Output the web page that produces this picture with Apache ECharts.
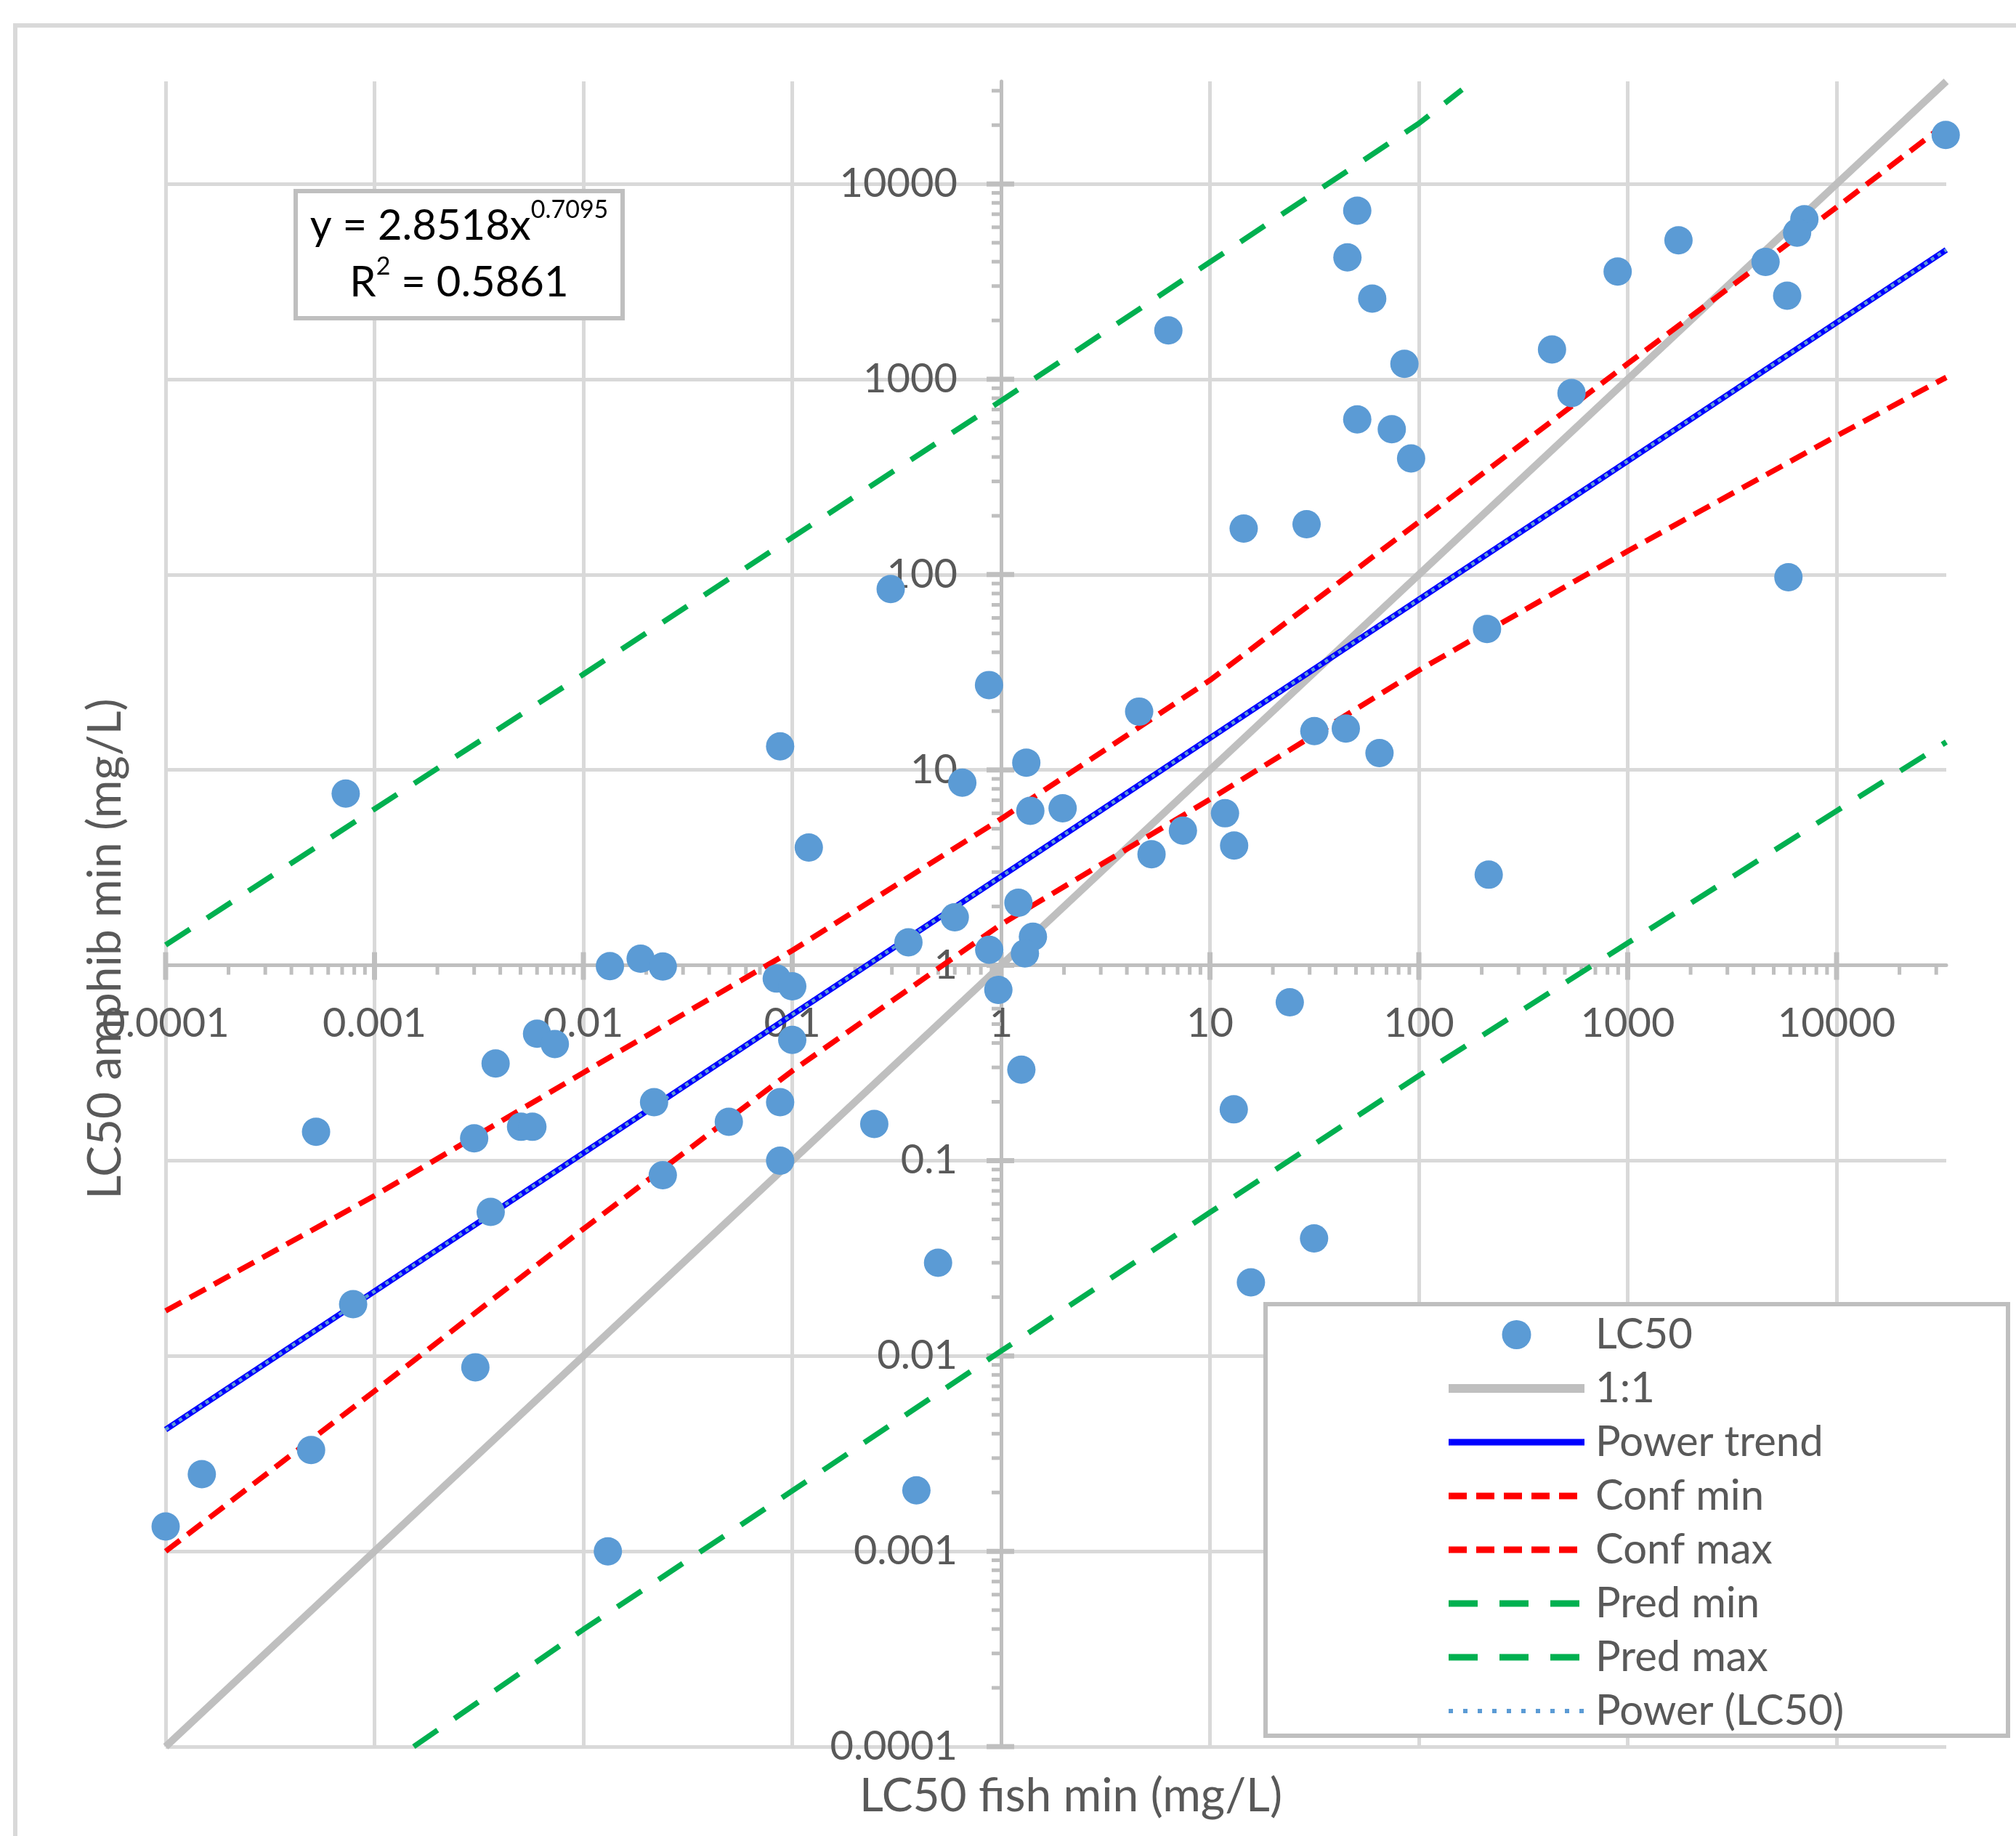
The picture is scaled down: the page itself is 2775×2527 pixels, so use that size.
<!DOCTYPE html>
<html>
<head>
<meta charset="utf-8">
<title>LC50 fish vs amphib</title>
<script src="https://cdn.jsdelivr.net/npm/echarts@6/dist/echarts.min.js"></script>
<style>
  html, body { margin: 0; padding: 0; background: #fff; }
  #chart { width: 2775px; height: 2527px; }
</style>
</head>
<body>
<div id="chart"></div>
<script>
  // [fish LC50, amphib LC50] in mg/L
  const lc50 = [
    [33300, 17800], [50.7, 7300], [45.5, 4210], [59.8, 2590], [1750, 5150], [895, 3560],
    [7010, 6600], [6470, 5630], [4570, 3990], [5800, 2680], [5880, 97], [434, 1420],
    [538, 850], [85.3, 1200], [50.7, 623], [74.2, 555], [91.8, 393], [6.32, 1780],
    [14.5, 172], [29.0, 181], [0.296, 84.3], [0.875, 27.2], [4.58, 19.9], [212, 52.7],
    [0.0875, 13.2], [1.32, 10.9], [0.652, 8.6], [0.000728, 7.57], [31.6, 15.8], [44.7, 16.3],
    [64.8, 12.2], [1.38, 6.18], [1.97, 6.36], [0.12, 4.01], [11.8, 6.0], [7.42, 4.89],
    [5.25, 3.7], [13.05, 4.1], [216, 2.91], [1.21, 2.09], [0.6, 1.76], [0.36, 1.31],
    [0.877, 1.2], [1.42, 1.4], [1.3, 1.15], [0.97, 0.748], [0.0134, 0.99], [0.0188, 1.08],
    [0.024, 0.985], [0.0843, 0.855], [0.1, 0.78], [0.1, 0.415], [0.006, 0.446], [0.0073, 0.395],
    [0.0038, 0.314], [24.1, 0.646], [1.25, 0.292], [0.000525, 0.1406], [0.003, 0.13], [0.00503, 0.149],
    [0.0057, 0.149], [0.0218, 0.199], [0.0497, 0.158], [0.0875, 0.199], [0.247, 0.154], [0.0875, 0.1],
    [0.024, 0.0842], [0.0036, 0.0546], [13.0, 0.183], [31.5, 0.04], [15.7, 0.0238], [0.499, 0.03],
    [0.00079, 0.0184], [0.00304, 0.00875], [0.000497, 0.0033], [0.000149, 0.00248], [0.0001, 0.00134],
    [0.0131, 0.001], [0.393, 0.00205]
  ];

  const oneToOne = [[0.0001, 0.0001], [33500, 33500]];
  const powerTrend = [[0.0001, 0.0042], [1, 2.85], [33500, 4600]];
  const confMin = [
    [0.0001, 0.001], [0.001, 0.00661], [0.01, 0.0447], [0.1, 0.288], [1, 1.62],
    [10, 7.08], [100, 32.4], [1000, 132], [10000, 513], [33500, 1023]
  ];
  const confMax = [
    [0.0001, 0.017], [0.001, 0.0661], [0.01, 0.282], [0.1, 1.19], [1, 5.62],
    [10, 28.8], [100, 186], [1000, 1202], [10000, 7590], [33500, 20400]
  ];
  const predMin = [
    [0.00154, 0.0001], [0.01, 0.000398], [0.1, 0.00204], [1, 0.0106], [10, 0.0543],
    [100, 0.272], [1000, 1.3], [10000, 6.17], [33500, 13.9]
  ];
  const predMax = [
    [0.0001, 1.27], [0.001, 6.31], [0.01, 30.9], [0.1, 155], [1, 776],
    [10, 3980], [100, 20400], [161, 30400]
  ];

  const xTickLabels = ['0.0001', '0.001', '0.01', '0.1', '1', '10', '100', '1000', '10000'];
  const yTickLabels = ['0.0001', '0.001', '0.01', '0.1', '1', '10', '100', '1000', '10000'];
  const axisMin = 0.0001;
  const axisMax = 33500;

  const FONT = "Lato, 'Liberation Sans', sans-serif";
  const TEXT = '#595959';
  const grid = { left: 228, top: 112, width: 2451, height: 2292 };

  // where the value 1 sits inside the grid (axes cross there)
  const span = Math.log10(axisMax) - Math.log10(axisMin);
  const xLift = grid.height * (0 - Math.log10(axisMin)) / span;
  const yShift = grid.width * (0 - Math.log10(axisMin)) / span;

  const decadeLabel = (labels) => (v) => {
    const lg = Math.log10(v);
    const e = Math.round(lg);
    if (Math.abs(lg - e) > 1e-6) return '';
    return labels[e + 4] || '';
  };

  // log-style tick marks (major at 1x, minor at 2..9x)
  const ticks = [];
  for (let e = -4; e <= 4; e++) {
    for (let k = 1; k <= 9; k++) {
      const v = k * Math.pow(10, e);
      if (v <= axisMax) ticks.push([v, k === 1 ? 1 : 0]);
    }
  }

  const chart = echarts.init(document.getElementById('chart'));

  const lineSeries = (name, data, color, width, type, z) => ({
    name,
    type: 'line',
    data,
    symbol: 'none',
    z: z || 2,
    lineStyle: { color, width, type },
    itemStyle: { color },
    silent: true,
    animation: false
  });

  // legend entry for a line: hide the dot ECharts puts on line icons
  const lineLegend = (name, color, width, type) => ({
    name,
    lineStyle: { color, width, type },
    itemStyle: { color: 'rgba(0,0,0,0)', opacity: 0, borderWidth: 0 }
  });

  const option = {
    animation: false,
    backgroundColor: '#fff',
    grid: Object.assign({ outerBoundsMode: 'none', containLabel: false }, grid),
    xAxis: {
      type: 'log',
      logBase: 10,
      min: axisMin,
      max: axisMax,
      position: 'bottom',
      offset: -xLift,
      axisLine: { show: true, onZero: false, lineStyle: { color: '#bfbfbf', width: 5 } },
      axisTick: { show: false },
      minorTick: { show: false },
      axisLabel: {
        fontFamily: FONT, fontSize: 56, color: TEXT, margin: 52,
        showMinLabel: true, showMaxLabel: false,
        formatter: decadeLabel(xTickLabels)
      },
      splitLine: { show: true, showMaxLine: false, lineStyle: { color: '#d9d9d9', width: 5 } }
    },
    yAxis: {
      type: 'log',
      logBase: 10,
      min: axisMin,
      max: axisMax,
      position: 'left',
      offset: -yShift,
      axisLine: { show: true, onZero: false, lineStyle: { color: '#bfbfbf', width: 5 } },
      axisTick: { show: false },
      minorTick: { show: false },
      axisLabel: {
        fontFamily: FONT, fontSize: 56, color: TEXT, margin: 60,
        showMinLabel: true, showMaxLabel: false,
        formatter: decadeLabel(yTickLabels)
      },
      splitLine: { show: true, showMaxLine: false, lineStyle: { color: '#d9d9d9', width: 5 } }
    },
    legend: {
      orient: 'vertical',
      left: 1983,
      top: 1803,
      itemWidth: 187,
      itemHeight: 40,
      itemGap: 16,
      z: 12,
      selectedMode: false,
      textStyle: { fontFamily: FONT, fontSize: 58, color: TEXT, padding: [0, 0, 0, 10] },
      data: [
        { name: 'LC50' },
        lineLegend('1:1', '#bfbfbf', 12, 'solid'),
        lineLegend('Power trend', '#0000ff', 9, 'solid'),
        lineLegend('Conf min', '#ff0000', 9, [25, 13]),
        lineLegend('Conf max', '#ff0000', 9, [25, 13]),
        lineLegend('Pred min', '#00b050', 9, [40, 30]),
        lineLegend('Pred max', '#00b050', 9, [40, 30]),
        lineLegend('Power (LC50)', '#5b9bd5', 6, [6, 14])
      ]
    },
    graphic: [
      {
        type: 'rect', z: -10, silent: true,
        shape: { x: 21, y: 35, width: 2800, height: 2600 },
        style: { fill: null, stroke: '#d9d9d9', lineWidth: 6 }
      },
      {
        type: 'rect', z: 10, silent: true,
        shape: { x: 407, y: 263, width: 450, height: 175 },
        style: { fill: '#fff', stroke: '#bfbfbf', lineWidth: 6 }
      },
      {
        type: 'text', z: 11, silent: true,
        x: 632, y: 350,
        style: {
          text: '{a|y = 2.8518x}{s|0.7095}\n{a|R}{s|2}{a| = 0.5861}',
          align: 'center',
          verticalAlign: 'middle',
          rich: {
            a: { fontFamily: FONT, fontSize: 58, color: TEXT, lineHeight: 78 },
            s: { fontFamily: FONT, fontSize: 34, color: TEXT, lineHeight: 56, verticalAlign: 'top' }
          }
        }
      },
      {
        type: 'rect', z: 10, silent: true,
        shape: { x: 1742, y: 1795, width: 1022, height: 594 },
        style: { fill: '#fff', stroke: '#bfbfbf', lineWidth: 6 }
      },
      {
        type: 'text', z: 5, silent: true,
        x: 1474, y: 2472,
        style: {
          text: 'LC50 fish min (mg/L)', fontFamily: FONT, fontSize: 64, fill: TEXT,
          align: 'center', verticalAlign: 'middle'
        }
      },
      {
        type: 'text', z: 5, silent: true,
        x: 145, y: 1306, rotation: Math.PI / 2,
        style: {
          text: 'LC50 amphib min (mg/L)', fontFamily: FONT, fontSize: 64, fill: TEXT,
          align: 'center', verticalAlign: 'middle'
        }
      }
    ],
    series: [
      {
        name: 'x ticks',
        type: 'custom',
        z: 1,
        silent: true,
        clip: false,
        data: ticks.map((t) => [t[0], 1, t[1]]),
        renderItem: (params, api) => {
          const p = api.coord([api.value(0), api.value(1)]);
          const major = api.value(2) === 1;
          return {
            type: 'line',
            shape: { x1: p[0], y1: major ? p[1] - 18 : p[1], x2: p[0], y2: p[1] + (major ? 20 : 13) },
            style: { stroke: '#bfbfbf', lineWidth: major ? 7 : 5 }
          };
        }
      },
      {
        name: 'y ticks',
        type: 'custom',
        z: 1,
        silent: true,
        clip: false,
        data: ticks.map((t) => [1, t[0], t[1]]),
        renderItem: (params, api) => {
          const p = api.coord([api.value(0), api.value(1)]);
          const major = api.value(2) === 1;
          return {
            type: 'line',
            shape: { x1: p[0] - (major ? 20 : 13), y1: p[1], x2: major ? p[0] + 18 : p[0], y2: p[1] },
            style: { stroke: '#bfbfbf', lineWidth: major ? 7 : 5 }
          };
        }
      },
      lineSeries('1:1', oneToOne, '#bfbfbf', 10, 'solid', 2),
      lineSeries('Power trend', powerTrend, '#0000ff', 8, 'solid', 3),
      lineSeries('Conf min', confMin, '#ff0000', 7.5, [25, 13], 3),
      lineSeries('Conf max', confMax, '#ff0000', 7.5, [25, 13], 3),
      lineSeries('Pred min', predMin, '#00b050', 7.5, [40, 28], 3),
      lineSeries('Pred max', predMax, '#00b050', 7.5, [40, 28], 3),
      lineSeries('Power (LC50)', powerTrend, '#5b9bd5', 4.5, [5, 6], 4),
      {
        name: 'LC50',
        type: 'scatter',
        data: lc50,
        symbol: 'circle',
        symbolSize: 39,
        z: 5,
        itemStyle: { color: '#5b9bd5', opacity: 1 },
        silent: true
      }
    ]
  };

  chart.setOption(option);

  window.addEventListener('resize', () => chart.resize());
</script>
</body>
</html>
